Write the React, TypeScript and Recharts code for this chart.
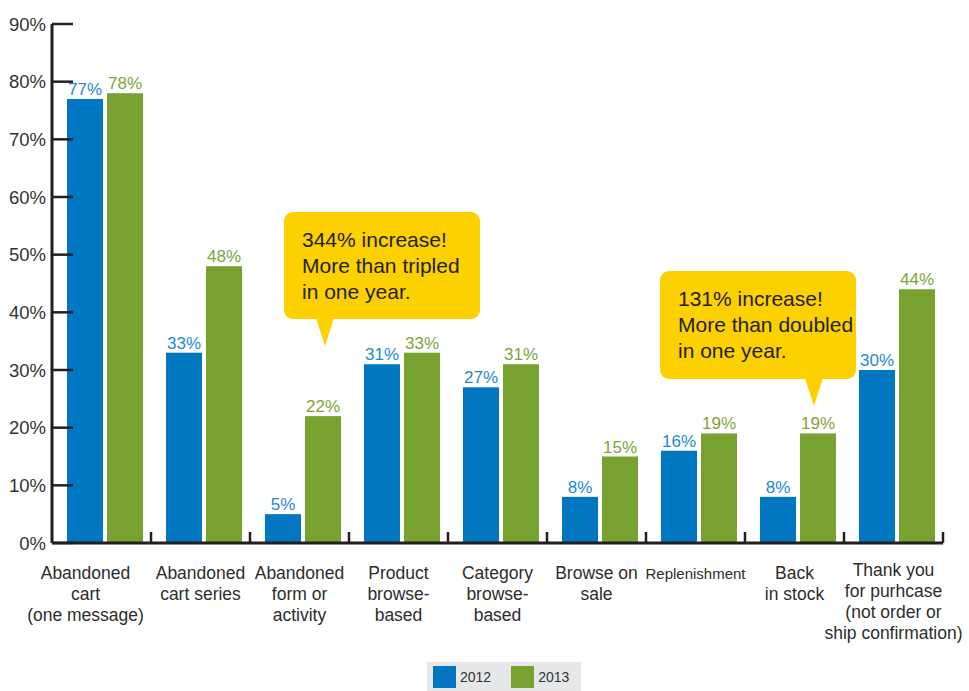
import { Bar, BarChart, LabelList, Legend, XAxis, YAxis } from 'recharts'

const categories = [
  'Abandoned\ncart\n(one message)',
  'Abandoned\ncart series',
  'Abandoned\nform or\nactivity',
  'Product\nbrowse-\nbased',
  'Category\nbrowse-\nbased',
  'Browse on\nsale',
  'Replenishment',
  'Back\nin stock',
  'Thank you\nfor purhcase\n(not order or\nship confirmation)',
]
const values2012 = [77, 33, 5, 31, 27, 8, 16, 8, 30]
const values2013 = [78, 48, 22, 33, 31, 15, 19, 19, 44]
const yTicks = [0, 10, 20, 30, 40, 50, 60, 70, 80, 90]
const seriesNames = ['2012', '2013']
const callout1 = ['344% increase!', 'More than tripled', 'in one year.']
const callout2 = ['131% increase!', 'More than doubled', 'in one year.']

const FONT = '"Liberation Sans", Arial, Helvetica, sans-serif'
const W = 969
const H = 691
const PLOT_LEFT = 52
const PLOT_RIGHT = 943
const PLOT_TOP = 24
const PLOT_BOTTOM = 543
const BAND = (PLOT_RIGHT - PLOT_LEFT) / categories.length
const SHIFT = 3 // bars sit a bit right of the band centre in the original
const AXIS = '#231f20'
const BLUE = '#0077c0'
const GREEN = '#78a22f'
const BLUE_TEXT = '#1f88d2'
const GREEN_TEXT = '#7ca53a'
const YELLOW = '#fdd000'

const data = categories.map((cat, i) => ({
  cat,
  v2012: values2012[i],
  v2013: values2013[i],
}))

function CategoryTick(props: any) {
  const { x, payload, index } = props
  const lines: string[] = String(payload.value).split('\n')
  const small = lines.length === 1 && lines[0].length > 11
  const dx = index === 0 ? -16 : 0
  const top = lines.length > 3 ? PLOT_BOTTOM + 33 : PLOT_BOTTOM + 36
  return (
    <g>
      <line
        x1={x + BAND / 2}
        x2={x + BAND / 2}
        y1={PLOT_BOTTOM}
        y2={PLOT_BOTTOM - 11}
        stroke={AXIS}
        strokeWidth={2.5}
      />
      <text
        x={x + dx}
        y={top}
        textAnchor="middle"
        fill="#2d2d2d"
        fontSize={small ? 15 : 17.5}
        fontFamily={FONT}
      >
        {lines.map((l, i) => (
          <tspan key={i} x={x + dx} dy={i === 0 ? 0 : 21}>
            {l}
          </tspan>
        ))}
      </text>
    </g>
  )
}

function PctTick(props: any) {
  const { y, payload } = props
  return (
    <g>
      <line x1={PLOT_LEFT} x2={PLOT_LEFT + 21} y1={y} y2={y} stroke={AXIS} strokeWidth={2.5} />
      <text
        x={PLOT_LEFT - 6}
        y={y}
        dy={6.5}
        textAnchor="end"
        fill="#333"
        fontSize={18.5}
        fontFamily={FONT}
      >
        {`${payload.value}%`}
      </text>
    </g>
  )
}

function ShiftedBar(props: any) {
  const { x, y, width, height, fill } = props
  return <rect x={x + SHIFT} y={y} width={width} height={height} fill={fill} />
}

function makeLabel(color: string) {
  return (props: any) => {
    const { x, y, width, value } = props
    return (
      <text
        x={x + width / 2 + SHIFT}
        y={y - 4}
        textAnchor="middle"
        fill={color}
        fontSize={17}
        fontFamily={FONT}
      >
        {`${value}%`}
      </text>
    )
  }
}

function LegendBox(props: any) {
  const payload = props.payload || []
  return (
    <div
      style={{
        background: '#e6e7e8',
        width: 154,
        height: 29,
        display: 'flex',
        alignItems: 'center',
        paddingLeft: 6,
        boxSizing: 'border-box',
        fontFamily: FONT,
        fontSize: 14,
        color: '#333',
      }}
    >
      {payload.map((p: any, i: number) => (
        <div key={i} style={{ display: 'flex', alignItems: 'center', marginRight: i === 0 ? 20 : 0 }}>
          <div style={{ width: 23, height: 22, background: p.color, marginRight: 4 }} />
          <span>{p.value}</span>
        </div>
      ))}
    </div>
  )
}

function Callout({
  x,
  y,
  w,
  h,
  tip,
  lines,
}: {
  x: number
  y: number
  w: number
  h: number
  tip: [number, number]
  lines: string[]
}) {
  return (
    <g>
      <rect x={x} y={y} width={w} height={h} rx={9} fill={YELLOW} />
      <polygon
        points={`${tip[0] - 9},${y + h - 1} ${tip[0] + 9},${y + h - 1} ${tip[0]},${tip[1]}`}
        fill={YELLOW}
      />
      <text x={x + 18} y={y + 35} fill={AXIS} fontSize={21} fontFamily={FONT}>
        {lines.map((l, i) => (
          <tspan key={i} x={x + 18} dy={i === 0 ? 0 : 26}>
            {l}
          </tspan>
        ))}
      </text>
    </g>
  )
}

export default function App() {
  return (
    <div style={{ position: 'absolute', left: 0, top: 0, width: W, height: H, background: '#fff' }}>
      <BarChart
        width={W}
        height={H}
        data={data}
        margin={{ top: PLOT_TOP, right: W - PLOT_RIGHT, bottom: 48, left: 0 }}
        barGap={4}
        barSize={36}
      >
        <XAxis
          dataKey="cat"
          interval={0}
          height={H - PLOT_BOTTOM - 48}
          axisLine={{ stroke: AXIS, strokeWidth: 3 }}
          tickLine={false}
          tick={<CategoryTick />}
        />
        <YAxis
          width={PLOT_LEFT}
          domain={[0, 90]}
          ticks={yTicks}
          interval={0}
          axisLine={{ stroke: AXIS, strokeWidth: 3 }}
          tickLine={false}
          tick={<PctTick />}
        />
        <Legend
          layout="horizontal"
          verticalAlign="middle"
          align="center"
          wrapperStyle={{ position: 'absolute', left: 427, top: 662, width: 154, height: 29 }}
          content={<LegendBox />}
        />
        <Bar dataKey="v2012" name={seriesNames[0]} fill={BLUE} shape={<ShiftedBar />} isAnimationActive={false}>
          <LabelList dataKey="v2012" content={makeLabel(BLUE_TEXT)} />
        </Bar>
        <Bar dataKey="v2013" name={seriesNames[1]} fill={GREEN} shape={<ShiftedBar />} isAnimationActive={false}>
          <LabelList dataKey="v2013" content={makeLabel(GREEN_TEXT)} />
        </Bar>
      </BarChart>
      <svg
        width={W}
        height={H}
        style={{ position: 'absolute', left: 0, top: 0, pointerEvents: 'none' }}
      >
        <Callout x={284} y={212} w={196} h={107} tip={[325, 346]} lines={callout1} />
        <Callout x={660} y={271} w={196} h={108} tip={[814, 406]} lines={callout2} />
      </svg>
    </div>
  )
}
